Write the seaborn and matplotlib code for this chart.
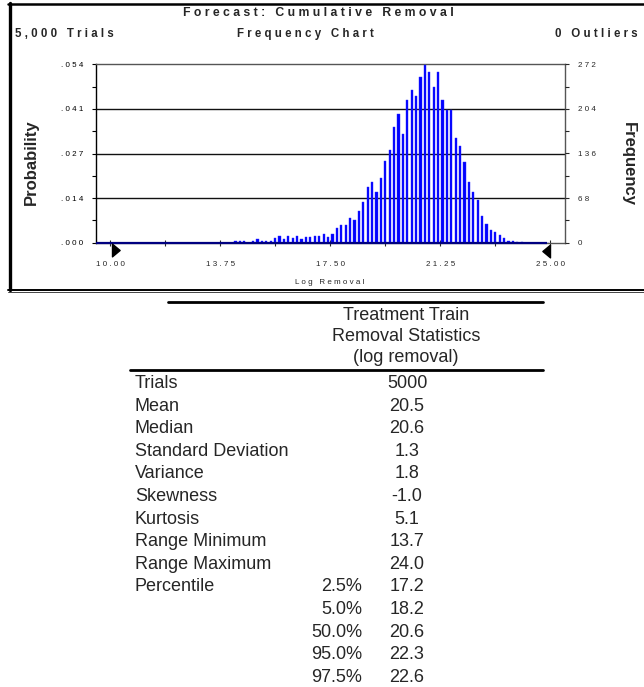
import numpy as np
import pandas as pd
import matplotlib
matplotlib.use("Agg")
import matplotlib.pyplot as plt
import matplotlib.transforms as mtransforms
from matplotlib.path import Path
from matplotlib.lines import Line2D
from matplotlib import font_manager
import seaborn as sns

# ---------------- data ----------------
chart_title = "Forecast: Cumulative Removal"
trials_text = "5,000 Trials"
chart_kind = "Frequency Chart"
outliers_text = "0 Outliers"
x_label = "Log Removal"
bin_start = 10.0
bin_width = 0.15
# frequency per bin (100 bins from 10.00 to 25.00)
counts = [0, 0, 0, 0, 0, 0, 0, 0, 0, 0,
          0, 0, 0, 0, 0, 0, 0, 0, 0, 0,
          0, 0, 0, 0, 0, 0, 0, 0, 2, 2,
          2, 0, 3, 5, 2, 2, 2, 7, 10, 5,
          10, 7, 10, 5, 8, 8, 10, 10, 13, 8,
          13, 22, 27, 27, 38, 35, 49, 62, 85, 92,
          77, 99, 125, 141, 177, 196, 166, 218, 233, 223,
          253, 271, 260, 237, 260, 218, 203, 203, 159, 147,
          123, 92, 77, 65, 41, 29, 19, 16, 12, 7,
          2, 2, 1, 1, 0, 0, 0, 0, 0, 0]
x_ticks = [10.00, 13.75, 17.50, 21.25, 25.00]
x_tick_labels = ["10.00", "13.75", "17.50", "21.25", "25.00"]
freq_ticks = [0, 68, 136, 204, 272]
prob_tick_labels = [".000", ".014", ".027", ".041", ".054"]
freq_tick_labels = ["0", "68", "136", "204", "272"]

table_header = ["Treatment Train", "Removal Statistics", "(log removal)"]
stat_names = ["Trials", "Mean", "Median", "Standard Deviation", "Variance",
              "Skewness", "Kurtosis", "Range Minimum", "Range Maximum"]
stat_values = ["5000", "20.5", "20.6", "1.3", "1.8", "-1.0", "5.1", "13.7", "24.0"]
pct_title = "Percentile"
pct_levels = ["2.5%", "5.0%", "50.0%", "95.0%", "97.5%"]
pct_values = ["17.2", "18.2", "20.6", "22.3", "22.6"]

# ---------------- style ----------------
sns.set_style("white")
names = {f.name for f in font_manager.fontManager.ttflist}
narrow = "Liberation Sans Narrow" if "Liberation Sans Narrow" in names else "Liberation Sans"
plt.rcParams["font.family"] = ["Liberation Sans", "DejaVu Sans"]

W, H = 644, 687
fig = plt.figure(figsize=(W / 100, H / 100), dpi=100)
fig.patch.set_facecolor("white")


def fx(px):
    return px / W


def fy(py):
    return 1 - py / H


def sp(s):
    return " ".join(s)


AX_L, AX_R, AX_T, AX_B = 96, 565, 64.3, 242.7
ax = fig.add_axes([fx(AX_L), fy(AX_B), (AX_R - AX_L) / W, (AX_B - AX_T) / H])

edges = [float(e) for e in bin_start + bin_width * np.arange(len(counts) + 1)]
centers = [e + bin_width / 2 for e in edges[:-1]]
df = pd.DataFrame({"x": centers, "count": counts})
sns.histplot(data=df, x="x", weights="count", bins=edges, shrink=0.5,
             color="#0000ff", alpha=1, edgecolor="#2a2aff", linewidth=0.3,
             ax=ax, zorder=3)

ax.set_xlim(9.52, 25.5)
ax.set_ylim(0, freq_ticks[-1])
ax.set_xlabel("")
ax.set_ylabel("")

for t in freq_ticks[1:-1]:
    ax.axhline(t, color="#111111", lw=1.0, zorder=2)

ax.spines["left"].set_color("#000000")
for side in ["top", "right", "bottom"]:
    ax.spines[side].set_color("#555555")
for side in ax.spines:
    ax.spines[side].set_linewidth(1.0)

# navy baseline of the histogram
ax.hlines(0, ax.get_xlim()[0], x_ticks[-1] - 0.1, color="#000080", lw=1.6,
          zorder=4, clip_on=False)

ax.set_yticks(freq_ticks)
ax.set_yticklabels([sp(s) for s in prob_tick_labels])
ax.set_yticks([34, 102, 170, 238], minor=True)
ax.tick_params(axis="y", which="both", direction="out", length=3, width=0.8,
               labelsize=5.8, pad=6, left=True, right=False, colors="#000000")
ax.set_xticks(x_ticks)
ax.set_xticklabels([sp(s) for s in x_tick_labels])
ax.set_xticks([11.875, 15.625, 19.375, 23.125], minor=True)
ax.tick_params(axis="x", which="both", direction="inout", length=4, width=0.8,
               labelsize=5.8, pad=11, bottom=True)

ax2 = ax.twinx()
ax2.set_ylim(0, freq_ticks[-1])
ax2.set_yticks(freq_ticks)
ax2.set_yticklabels([sp(s) for s in freq_tick_labels])
ax2.set_yticks([34, 102, 170, 238], minor=True)
ax2.tick_params(axis="y", which="both", direction="out", length=3, width=0.8,
                labelsize=5.8, pad=6, right=True)
for side in ax2.spines:
    ax2.spines[side].set_visible(False)

# certainty grabbers (triangles)
trans = mtransforms.blended_transform_factory(ax.transData, ax.transAxes)
tri_r = Path([(0, -1), (0, 1), (1.2, 0), (0, -1)],
             [Path.MOVETO, Path.LINETO, Path.LINETO, Path.CLOSEPOLY])
tri_l = Path([(0, -1), (0, 1), (-1.2, 0), (0, -1)],
             [Path.MOVETO, Path.LINETO, Path.LINETO, Path.CLOSEPOLY])
ax.plot([x_ticks[0] + 0.07], [-0.042], marker=tri_r, ms=11, color="black",
        ls="none", transform=trans, clip_on=False, zorder=5)
ax.plot([x_ticks[-1]], [-0.048], marker=tri_l, ms=11, color="black",
        ls="none", transform=trans, clip_on=False, zorder=5)

# chart texts
fig.text(fx(318), fy(13), sp(chart_title), ha="center",
         va="center", fontsize=8.8, fontweight="bold")
fig.text(fx(15), fy(34), sp(trials_text), ha="left", va="center",
         fontsize=8.3, fontweight="bold")
fig.text(fx(305), fy(34), sp(chart_kind), ha="center", va="center",
         fontsize=8.3, fontweight="bold")
fig.text(fx(638), fy(34), sp(outliers_text), ha="right", va="center",
         fontsize=8.3, fontweight="bold")
fig.text(fx(31), fy(162), "Probability", ha="center", va="center",
         rotation=90, fontsize=12, fontweight="bold", family=[narrow, "DejaVu Sans"])
fig.text(fx(628), fy(164), "Frequency", ha="center", va="center",
         rotation=-90, fontsize=12, fontweight="bold", family=[narrow, "DejaVu Sans"])
fig.text(fx(330), fy(282), sp(x_label), ha="center", va="center", fontsize=5.8)

# frame of the chart
fig.add_artist(Line2D([fx(9.5), fx(9.5)], [fy(3), fy(290)], lw=2.4, color="black",
                      transform=fig.transFigure))
fig.add_artist(Line2D([fx(8), 1.0], [fy(3.5), fy(3.5)], lw=1.8, color="black",
                      transform=fig.transFigure))
fig.add_artist(Line2D([fx(8), 1.0], [fy(289.5), fy(289.5)], lw=1.4, color="black",
                      transform=fig.transFigure))
fig.add_artist(Line2D([fx(8), 1.0], [fy(292.5), fy(292.5)], lw=0.7, color="#444444",
                      transform=fig.transFigure))

# ---------------- statistics table ----------------
TFS = 13.0
LBL_X, PCT_X, VAL_X, HDR_X = 135, 362, 407, 406
ROW0, ROWH = 383.5, 22.6
fig.add_artist(Line2D([fx(168), fx(543)], [fy(302), fy(302)], lw=2.0, color="black",
                      transform=fig.transFigure))
for i, h in enumerate(table_header):
    fig.text(fx(HDR_X), fy(315 + 21.5 * i), h, ha="center", va="center", fontsize=TFS)
fig.add_artist(Line2D([fx(130), fx(543)], [fy(370), fy(370)], lw=2.0, color="black",
                      transform=fig.transFigure))
for i, (n, v) in enumerate(zip(stat_names, stat_values)):
    y = ROW0 + ROWH * i
    fig.text(fx(LBL_X), fy(y), n, ha="left", va="center", fontsize=TFS)
    fig.text(fx(VAL_X), fy(y), v, ha="center", va="center", fontsize=TFS)
for j, (p, v) in enumerate(zip(pct_levels, pct_values)):
    y = ROW0 + ROWH * (len(stat_names) + j)
    if j == 0:
        fig.text(fx(LBL_X), fy(y), pct_title, ha="left", va="center", fontsize=TFS)
    fig.text(fx(PCT_X), fy(y), p, ha="right", va="center", fontsize=TFS)
    fig.text(fx(VAL_X), fy(y), v, ha="center", va="center", fontsize=TFS)

fig.savefig("out.png", dpi=100, facecolor="white")
